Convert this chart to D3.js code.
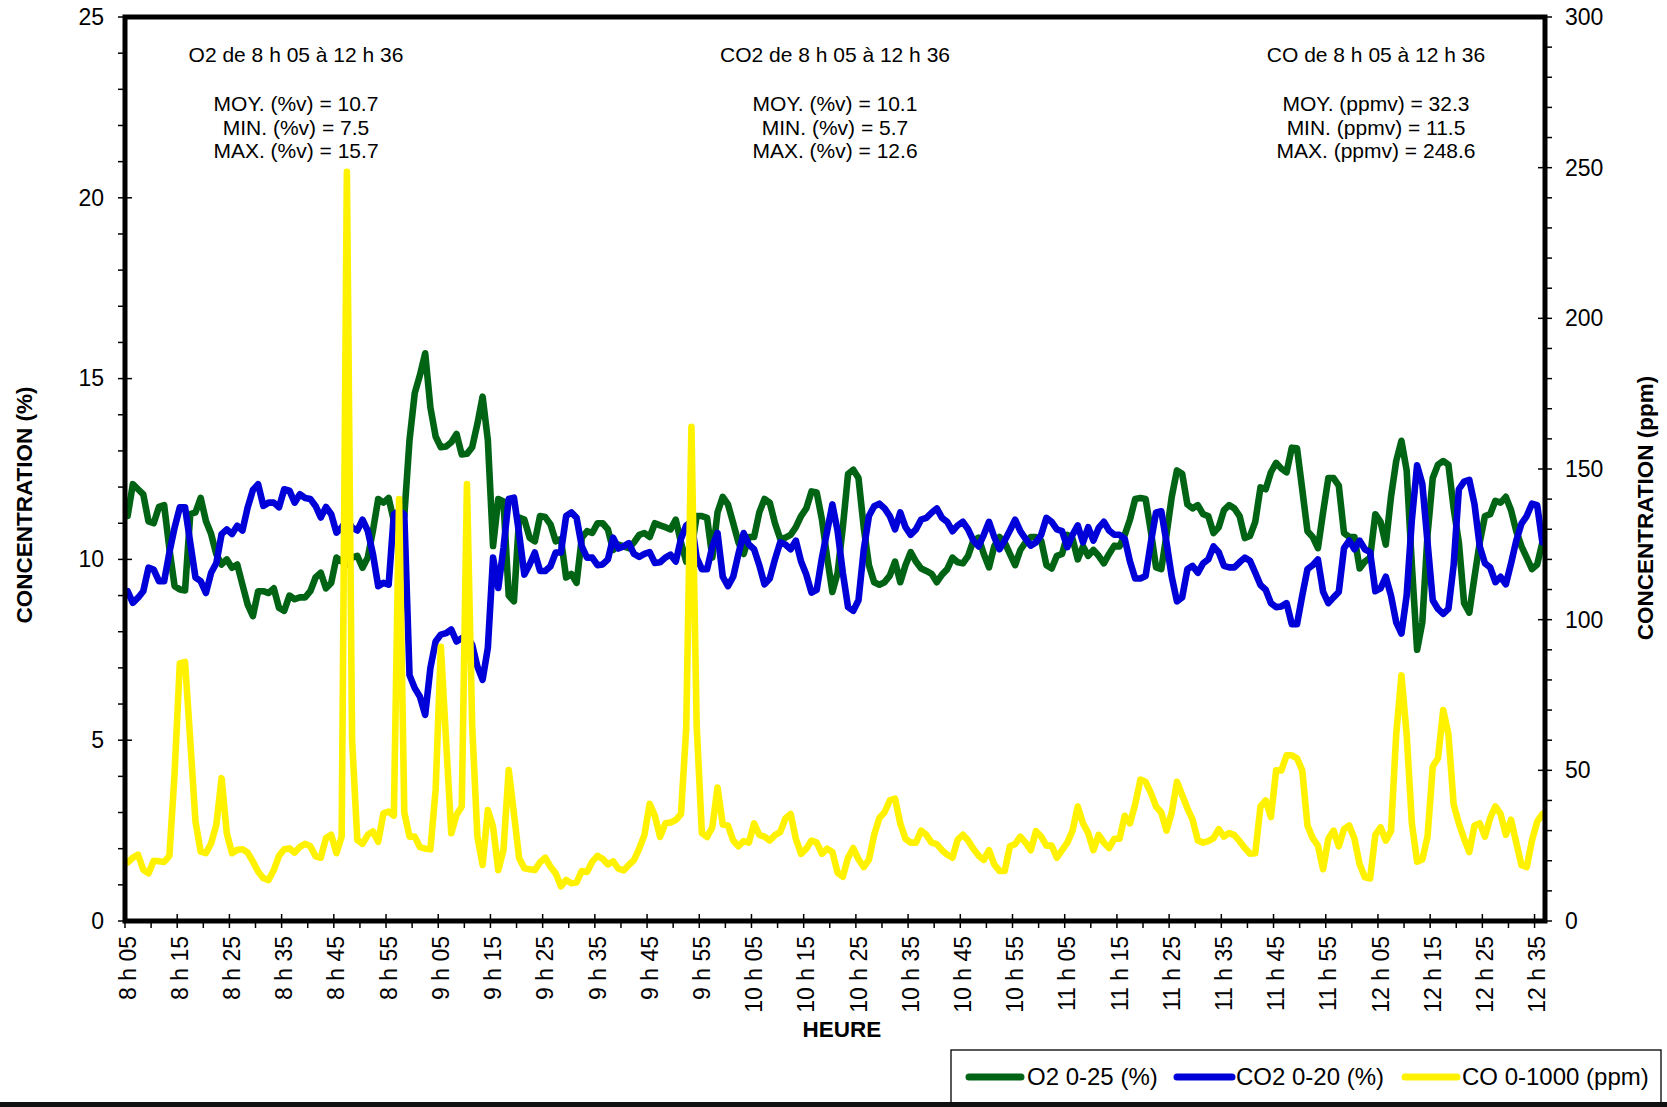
<!DOCTYPE html>
<html>
<head>
<meta charset="utf-8">
<script src="https://cdn.jsdelivr.net/npm/d3@7"></script>
<style>
  body { margin: 0; background: #fff; }
  svg { display: block; }
  text { font-family: "Liberation Sans", Arial, Helvetica, sans-serif; fill: #000; }
</style>
</head>
<body>
<svg id="chart" width="1667" height="1107"></svg>
<script>
// One reading per minute, 8 h 05 to 12 h 36
const startMinute = 8 * 60 + 5;
const pointCount = 272;
const times = d3.range(pointCount).map(i => {
  const m = startMinute + i;
  return Math.floor(m / 60) + " h " + String(m % 60).padStart(2, "0");
});

// Tick labels on the time axis (every 10 minutes)
const tickLabels = ["8 h 05","8 h 15","8 h 25","8 h 35","8 h 45","8 h 55","9 h 05","9 h 15","9 h 25","9 h 35",
  "9 h 45","9 h 55","10 h 05","10 h 15","10 h 25","10 h 35","10 h 45","10 h 55","11 h 05","11 h 15",
  "11 h 25","11 h 35","11 h 45","11 h 55","12 h 05","12 h 15","12 h 25","12 h 35"];

// O2 (% v), left axis
const o2Values = [
  11.2,12.08,11.94,11.8,11.05,11.0,11.45,11.5,10.3,9.26,9.17,9.14,11.25,11.3,11.7,11.06,10.7,10.14,9.86,10.0,
  9.77,9.86,9.3,8.75,8.43,9.12,9.12,9.07,9.2,8.66,8.58,9.0,8.9,8.95,8.95,9.12,9.5,9.63,9.2,9.35,
  10.05,9.95,9.86,10.05,10.1,9.77,10.05,10.8,11.67,11.57,11.7,11.06,10.9,11.2,13.3,14.6,15.1,15.7,14.2,13.4,
  13.1,13.12,13.24,13.47,12.9,12.92,13.1,13.75,14.5,13.3,10.37,11.67,11.6,9.0,8.84,11.16,11.1,10.6,10.5,11.2,
  11.17,10.97,10.5,10.56,9.5,9.6,9.35,10.6,10.78,10.73,11.0,11.0,10.83,10.26,10.41,10.36,10.31,10.47,10.68,10.73,
  10.62,11.0,10.94,10.89,10.83,11.1,10.47,9.94,10.26,11.2,11.2,11.15,10.05,11.3,11.73,11.52,11.0,10.47,10.15,10.62,
  10.62,11.3,11.67,11.57,11.0,10.57,10.6,10.68,10.89,11.2,11.41,11.88,11.85,11.1,10.05,9.1,9.63,10.89,12.36,12.48,
  12.25,10.89,9.84,9.37,9.3,9.37,9.55,9.94,9.37,9.84,10.2,9.94,9.75,9.68,9.6,9.37,9.58,9.73,10.05,9.92,
  9.89,10.1,10.52,10.6,10.15,9.78,10.36,10.62,10.47,10.15,9.84,10.26,10.47,10.62,10.62,10.52,9.84,9.75,10.1,10.15,
  10.68,10.57,10.0,10.36,10.1,10.26,10.1,9.89,10.15,10.38,10.36,10.68,11.1,11.67,11.7,11.67,10.78,9.78,9.73,10.68,
  11.73,12.46,12.37,11.52,11.41,11.5,11.25,11.2,10.73,10.89,11.36,11.5,11.41,11.2,10.59,10.65,11.04,11.99,11.94,12.41,
  12.67,12.51,12.41,13.09,13.07,11.94,10.78,10.62,10.31,11.31,12.25,12.25,12.04,10.73,10.62,10.62,9.75,9.94,10.05,11.25,
  11.04,10.41,11.73,12.72,13.28,12.46,9.84,7.5,8.26,10.68,12.25,12.62,12.72,12.62,11.41,10.47,8.79,8.53,9.52,10.47,
  11.2,11.25,11.62,11.57,11.73,11.36,10.78,10.36,10.05,9.73,9.86,10.47
];

// CO2 (% v), left axis
const co2Values = [
  9.12,8.8,8.94,9.12,9.77,9.72,9.4,9.4,10.19,10.88,11.44,11.44,10.46,9.5,9.4,9.07,9.63,9.9,10.7,10.83,
  10.7,10.93,10.8,11.44,11.92,12.08,11.48,11.57,11.57,11.44,11.94,11.9,11.57,11.8,11.7,11.67,11.48,11.16,11.45,11.25,
  10.74,10.88,11.1,10.88,10.8,11.1,10.79,10.14,9.26,9.35,9.3,11.25,11.34,11.25,6.8,6.44,6.2,5.7,7.0,7.73,
  7.92,7.96,8.06,7.73,7.82,7.87,7.64,7.04,6.67,7.55,10.05,9.21,10.32,11.67,11.71,10.7,9.58,9.86,10.19,9.68,
  9.68,9.81,10.19,10.19,11.2,11.3,11.15,10.36,10.05,10.05,9.84,9.86,10.0,10.6,10.3,10.36,10.45,10.15,10.07,10.15,
  10.2,9.9,9.92,10.05,10.13,9.94,10.57,10.94,11.04,10.05,9.73,9.73,10.36,10.73,9.52,9.26,9.52,10.15,10.73,10.41,
  10.28,9.84,9.31,9.47,10.0,10.47,10.41,10.28,10.52,9.94,9.58,9.08,9.16,10.05,10.78,11.52,10.78,9.63,8.68,8.58,
  8.87,10.26,11.2,11.47,11.54,11.41,11.2,10.83,11.3,10.89,10.68,10.83,11.1,11.15,11.29,11.41,11.15,11.04,10.78,10.94,
  11.04,10.83,10.52,10.36,10.68,11.04,10.62,10.28,10.52,10.8,11.1,10.78,10.57,10.38,10.47,10.68,11.15,11.04,10.83,10.78,
  10.34,10.68,10.94,10.47,10.89,10.52,10.87,11.04,10.8,10.68,10.68,10.57,9.94,9.47,9.47,9.54,10.47,11.3,11.33,10.47,
  9.52,8.84,8.95,9.73,9.82,9.63,9.89,10.0,10.36,10.2,9.82,9.78,9.78,9.92,10.05,9.96,9.63,9.29,9.16,8.79,
  8.68,8.7,8.79,8.21,8.21,9.0,9.73,9.84,10.0,9.1,8.79,8.95,9.1,10.31,10.52,10.28,10.52,10.28,10.2,9.12,
  9.2,9.52,9.0,8.26,7.95,9.0,11.1,12.6,12.09,10.47,8.87,8.63,8.49,8.63,9.84,11.94,12.15,12.2,11.52,10.36,
  9.89,9.78,9.37,9.52,9.31,9.89,10.52,10.99,11.2,11.54,11.5,10.47
];

// CO (ppm v), right axis
const coValues = [
  19.4,21,22,17,15.8,20,19.8,19.6,21.6,49,85.5,86,60,33,23,22.5,25.8,32,47.4,29.1,
  22.5,23.6,23.8,22.7,19.7,16.4,14.2,13.6,16.9,21.6,23.8,24.1,22.7,24.6,25.6,24.8,21.5,21,27.5,28.6,
  22.5,28,248.6,60,26.9,25.6,28.6,29.7,26.3,35.7,36.3,35,140,36,28,28,24.5,24,23.8,43.5,
  91,60,29.1,35.2,38,145,65,28,18.6,36.8,31.3,16.9,23.6,50.1,35.7,20.8,17.5,17.2,16.9,19.5,
  21,18,15.8,11.5,13.6,12.5,12.8,16.6,16.3,19.7,21.6,20.6,18.8,19.8,17.4,16.8,18.6,20.2,24,28.6,
  38.9,34.9,27.9,32.4,32.7,33.5,35.5,63.9,164,65,29.2,27.9,31.1,44.3,32,31.7,26.7,24.8,26.5,26,
  32.4,28.6,28,26.7,28.5,29.5,34,35.5,27.3,22.3,24,26.7,26,22.3,24,22.9,16,14.7,21,24.2,
  20.5,17.9,20.4,28.6,34.2,36.1,40,40.6,32.4,27.3,26,26,30,28.6,26,25.5,23.5,22,21,27,
  28.6,26.7,24,21.7,20.3,23.5,18.8,16.6,16.6,24.8,25.5,28,26,23.5,29.8,28,25,25,21,23.5,
  26,30,38,32.4,29.2,23.5,28.6,26,24.2,27.3,27.3,34.9,32.4,38.7,46.9,46.2,42.5,38,36,30,
  36,46.2,41.8,37.4,33.6,26.7,26,26.5,27.5,30.5,28,29.2,28.5,26.5,24.2,22.3,22.5,38,40,34.5,
  50,50,55,55,54,50,31.7,27.5,25,17.2,27.3,30,24.8,30.5,31.7,27.3,18.8,14.5,14.1,28.6,
  31.1,26.7,29.8,62,81.5,62,32.4,19.7,20.4,28,51.3,54,70,62,38.7,32.4,27.3,22.9,31.7,32.4,
  28,34.2,38,35.5,28.6,33.6,26,18.5,17.9,26.7,33,35.5
];

// Summary blocks printed at the top of the plot
const summaryBlocks = [
  ["O2 de 8 h 05 à 12 h 36", "MOY. (%v) = 10.7", "MIN. (%v) = 7.5", "MAX. (%v) = 15.7"],
  ["CO2 de 8 h 05 à 12 h 36", "MOY. (%v) = 10.1", "MIN. (%v) = 5.7", "MAX. (%v) = 12.6"],
  ["CO de 8 h 05 à 12 h 36", "MOY. (ppmv) = 32.3", "MIN. (ppmv) = 11.5", "MAX. (ppmv) = 248.6"]
];

const seriesNames = ["O2 0-25 (%)", "CO2 0-20 (%)", "CO 0-1000 (ppm)"];

// ---- layout ----
const W = 1667, H = 1107;
const plot = { left: 125, right: 1545, top: 17, bottom: 921 };
const colors = { o2: "#006414", co2: "#0000d8", co: "#fff200" };

const svg = d3.select("#chart");
svg.append("rect").attr("width", W).attr("height", H).attr("fill", "#fff");

const x = d3.scaleBand().domain(times).range([plot.left, plot.right]).paddingInner(0).paddingOuter(0);
const bw = x.bandwidth();
const yL = d3.scaleLinear().domain([0, 25]).range([plot.bottom, plot.top]);
const yR = d3.scaleLinear().domain([0, 300]).range([plot.bottom, plot.top]);

// ---- series ----
const lineLeft = d3.line().x((d, i) => x(times[i]) + bw / 2).y(d => yL(d)).curve(d3.curveLinear);
const lineRight = d3.line().x((d, i) => x(times[i]) + bw / 2).y(d => yR(d)).curve(d3.curveLinear);

const gSeries = svg.append("g");
[[o2Values, lineLeft, colors.o2], [co2Values, lineLeft, colors.co2], [coValues, lineRight, colors.co]]
  .forEach(([vals, gen, col]) => {
    gSeries.append("path")
      .attr("d", gen(vals))
      .attr("fill", "none")
      .attr("stroke", col)
      .attr("stroke-width", 6.6)
      .attr("stroke-linejoin", "round")
      .attr("stroke-linecap", "round");
  });

// ---- summary text ----
const blockCenters = [296, 835, 1376];
summaryBlocks.forEach((lines, b) => {
  const g = svg.append("g").attr("font-size", 21).attr("text-anchor", "middle");
  g.append("text").attr("x", blockCenters[b]).attr("y", 62).text(lines[0]);
  lines.slice(1).forEach((t, k) => {
    g.append("text").attr("x", blockCenters[b]).attr("y", 111 + k * 23.5).text(t);
  });
});

// ---- axes ----
const axisColor = "#000";
// left axis
const gL = svg.append("g");
yL.ticks(25).forEach(v => {
  const major = v % 5 === 0;
  gL.append("line")
    .attr("x1", plot.left - 7).attr("x2", major ? plot.left + 7 : plot.left)
    .attr("y1", yL(v)).attr("y2", yL(v))
    .attr("stroke", axisColor).attr("stroke-width", 1.5);
});
const leftAxis = d3.axisLeft(yL).tickValues([0, 5, 10, 15, 20, 25]).tickSize(0).tickPadding(0);
svg.append("g").attr("transform", `translate(${plot.left - 21},0)`).call(leftAxis)
  .call(g => g.select(".domain").remove())
  .selectAll("text").attr("font-size", 23).attr("fill", "#000")
  .style("font-family", "'Liberation Sans', Arial, sans-serif");

// right axis
const gR = svg.append("g");
d3.range(0, 301, 10).forEach(v => {
  const major = v % 50 === 0;
  gR.append("line")
    .attr("x1", major ? plot.right - 7 : plot.right).attr("x2", plot.right + 7)
    .attr("y1", yR(v)).attr("y2", yR(v))
    .attr("stroke", axisColor).attr("stroke-width", 1.5);
});
const rightAxis = d3.axisRight(yR).tickValues(d3.range(0, 301, 50)).tickSize(0).tickPadding(0);
svg.append("g").attr("transform", `translate(${plot.right + 20},0)`).call(rightAxis)
  .call(g => g.select(".domain").remove())
  .selectAll("text").attr("font-size", 23).attr("fill", "#000")
  .style("font-family", "'Liberation Sans', Arial, sans-serif");

// bottom axis: ticks on category boundaries, labels centred on the category
const gB = svg.append("g");
times.forEach((t, i) => {
  if (i % 5 !== 0) return;
  const major = i % 10 === 0;
  gB.append("line")
    .attr("x1", x(t)).attr("x2", x(t))
    .attr("y1", major ? plot.bottom - 7 : plot.bottom).attr("y2", plot.bottom + 7)
    .attr("stroke", axisColor).attr("stroke-width", 1.5);
});
tickLabels.forEach(lbl => {
  const cx = x(lbl) + bw / 2;
  gB.append("text")
    .attr("transform", `translate(${cx},936) rotate(-90)`)
    .attr("text-anchor", "end")
    .attr("dy", "0.35em")
    .attr("font-size", 23)
    .text(lbl);
});

// plot frame
svg.append("rect")
  .attr("x", plot.left).attr("y", plot.top)
  .attr("width", plot.right - plot.left).attr("height", plot.bottom - plot.top)
  .attr("fill", "none").attr("stroke", "#000").attr("stroke-width", 5);

// axis titles
svg.append("text")
  .attr("transform", "translate(24,505) rotate(-90)")
  .attr("text-anchor", "middle").attr("dy", "0.35em")
  .attr("font-size", 22.5).attr("font-weight", "bold")
  .text("CONCENTRATION (%)");
svg.append("text")
  .attr("transform", "translate(1645,508) rotate(-90)")
  .attr("text-anchor", "middle").attr("dy", "0.35em")
  .attr("font-size", 22.5).attr("font-weight", "bold")
  .text("CONCENTRATION (ppm)");
svg.append("text")
  .attr("x", 842).attr("y", 1029).attr("dy", "0.35em")
  .attr("text-anchor", "middle")
  .attr("font-size", 22.5).attr("font-weight", "bold")
  .text("HEURE");

// ---- legend ----
const gLeg = svg.append("g");
gLeg.append("rect").attr("x", 951).attr("y", 1050).attr("width", 710).attr("height", 62)
  .attr("fill", "#fff").attr("stroke", "#000").attr("stroke-width", 1.3);
const legendItems = [
  { name: seriesNames[0], color: colors.o2, x0: 969, x1: 1021, tx: 1027 },
  { name: seriesNames[1], color: colors.co2, x0: 1177, x1: 1232, tx: 1236 },
  { name: seriesNames[2], color: colors.co, x0: 1405, x1: 1457, tx: 1462 }
];
legendItems.forEach(it => {
  gLeg.append("line").attr("x1", it.x0).attr("x2", it.x1).attr("y1", 1077).attr("y2", 1077)
    .attr("stroke", it.color).attr("stroke-width", 7).attr("stroke-linecap", "round");
  gLeg.append("text").attr("x", it.tx).attr("y", 1077).attr("dy", "0.35em")
    .attr("font-size", 24).text(it.name);
});

// chart area edge along the bottom
svg.append("rect").attr("x", 0).attr("y", 1102).attr("width", W).attr("height", 5).attr("fill", "#111");
</script>
</body>
</html>
